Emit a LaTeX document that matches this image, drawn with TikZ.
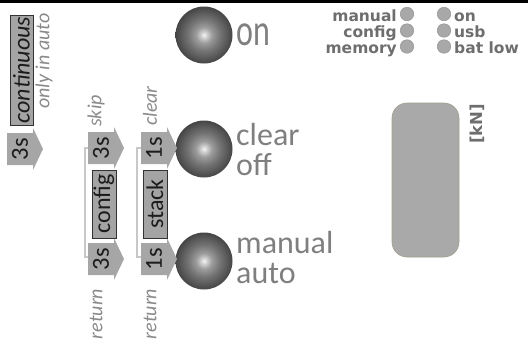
\documentclass[tikz,border=0pt]{standalone}
\usepackage{fontspec}
\setmainfont{Carlito}
\newfontfamily\ledfont{DejaVu Sans}
\usepackage{graphicx}
\definecolor{kA}{HTML}{F4F4F4}
\definecolor{kB}{HTML}{D2D2D2}
\definecolor{kC}{HTML}{9C9C9C}
\definecolor{kD}{HTML}{747474}
\definecolor{kE}{HTML}{565656}
\definecolor{kF}{HTML}{454545}
\definecolor{txtgrey}{HTML}{7F7F7F}
\definecolor{ledtxt}{HTML}{6E6E6E}
\definecolor{arrowgrey}{HTML}{A6A6A6}
\definecolor{boxgrey}{HTML}{A4A4A4}
\definecolor{darktxt}{HTML}{1C1C1C}
\definecolor{italgrey}{HTML}{8A8A8A}
\definecolor{brgrey}{HTML}{C8C8C8}
\definecolor{dispfill}{HTML}{A9A9A9}
\definecolor{dispedge}{HTML}{A39E8C}
\definecolor{ledfill}{HTML}{A8A8A8}
\definecolor{lededge}{HTML}{959595}
\pgfdeclareradialshading{knob}{\pgfpoint{0bp}{0bp}}{color(0bp)=(kA); color(2.5bp)=(kB); color(7bp)=(kC); color(14bp)=(kD); color(21bp)=(kE); color(25bp)=(kF); color(50bp)=(kF)}
\newcommand\blockarrow[4]{%
  \fill[arrowgrey] (#2,#3-16) -- (#2+26,#3-16) -- (#2+26,#3-21) -- (#2+36,#3) -- (#2+26,#3+21) -- (#2+26,#3+16) -- (#2,#3+16) -- cycle;
  \node[arrowtext] (#1) at (#2+13,#3) {#4};}
\begin{document}
\begin{tikzpicture}[x=1pt,y=-1pt,
  knob/.style={circle, minimum size=57, inner sep=0, shading=knob},
  biglabel/.style={inner sep=0, anchor=base west, text=txtgrey, font=\fontsize{32}{30}\selectfont},
  arrowtext/.style={inner sep=0, rotate=90, text=darktxt, font=\fontsize{24.5}{26}\selectfont},
  labelbox/.style={rotate=90, inner sep=0, fill=boxgrey, draw=black!80, line width=0.8, text=darktxt, font=\fontsize{24}{26}\selectfont},
  smallital/.style={rotate=90, inner sep=0, text=italgrey, font=\fontsize{20}{22}\selectfont\itshape},
  bracket/.style={draw=brgrey, line width=1.2},
  led/.style={circle, minimum size=13.5, inner sep=0, fill=ledfill, draw=lededge, line width=0.5},
  ledlabel/.style={inner sep=0, text=ledtxt, font=\ledfont\bfseries\fontsize{15.5}{17}\selectfont},
  display/.style={rectangle, rounded corners=15, minimum width=67, minimum height=154, inner sep=0, fill=dispfill, draw=dispedge, line width=0.6}
]
\useasboundingbox (0,0) rectangle (528,338);
\fill[black] (0,0) rectangle (528,2.5);

% knobs
\node[knob] (kon) at (204,35) {};
\node[knob] (kclear) at (204,149) {};
\node[knob] (kmanual) at (204,261) {};

% knob labels
\node[biglabel] (ton) at (236,45) {\scalebox{1}[1.4]{on}};
\node[biglabel] (tclear) at (236,145) {clear};
\node[biglabel] (toff) at (236,175) {off};
\node[biglabel] (tmanual) at (236,253) {manual};
\node[biglabel] (tauto) at (236,283) {auto};

% brackets
\draw[bracket] (89,148) -- (85,148) -- (85,257) -- (89,257);
\draw[bracket] (141,148) -- (137,148) -- (137,257) -- (141,257);

% arrows
\blockarrow{a1}{7}{149}{3s}
\blockarrow{a2}{88}{148}{3s}
\blockarrow{a3}{88}{259}{3s}
\blockarrow{a4}{141}{148}{1s}
\blockarrow{a5}{141}{259}{1s}

% boxes
\node[labelbox, minimum width=110, minimum height=23] (bcont) at (21.5,70) {\itshape continuous};
\node[labelbox, minimum width=68, minimum height=24] (bconfig) at (104,204) {config};
\node[labelbox, minimum width=68, minimum height=24] (bstack) at (155,204) {stack};

% small italic labels
\node[smallital] (lauto) at (44,61) {only in auto};
\node[smallital] (lskip) at (96,111) {skip};
\node[smallital] (lclear) at (150,106) {clear};
\node[smallital] (lret1) at (96,314) {return};
\node[smallital] (lret2) at (150,314) {return};

% LEDs
\node[led] (lm) at (407,14) {};
\node[led] (lc) at (407,30.5) {};
\node[led] (lmem) at (407,46.5) {};
\node[led] (lon) at (444,14) {};
\node[led] (lusb) at (444,30.5) {};
\node[led] (lbat) at (444,46.5) {};
\node[ledlabel, anchor=base east] (tm) at (397,21) {manual};
\node[ledlabel, anchor=base east] (tc) at (397,37) {config};
\node[ledlabel, anchor=base east] (tmem) at (397,53) {memory};
\node[ledlabel, anchor=base west] (ton2) at (454,21) {on};
\node[ledlabel, anchor=base west] (tusb) at (454,37) {usb};
\node[ledlabel, anchor=base west] (tbat) at (454,53) {bat low};

% display
\node[display] (disp) at (425.5,180) {};
\node[ledlabel, rotate=90, font=\ledfont\bfseries\fontsize{16.5}{18}\selectfont] (kn) at (477,124) {[kN]};
\end{tikzpicture}
\end{document}
